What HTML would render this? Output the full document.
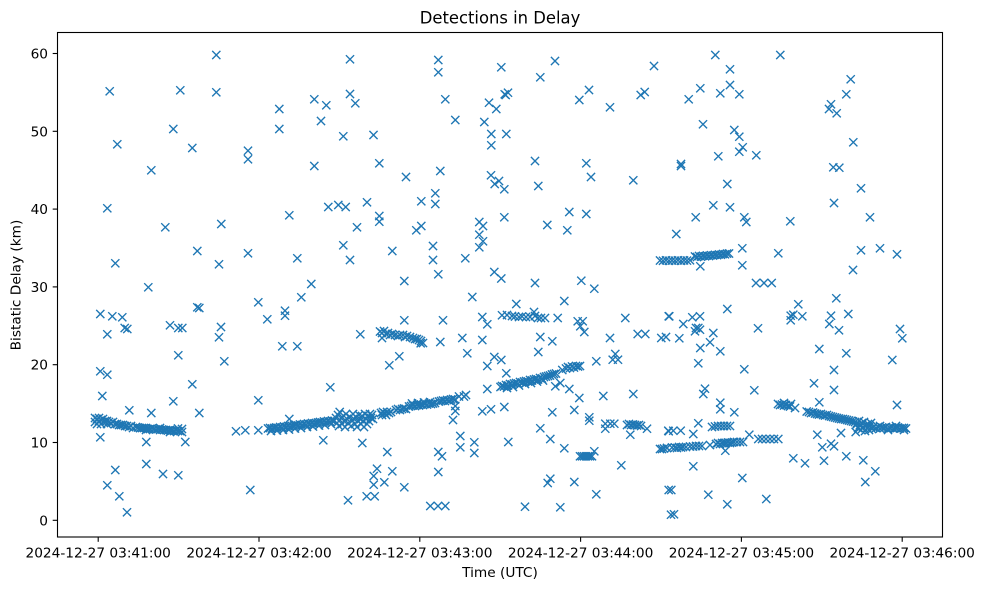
<!DOCTYPE html>
<html><head><meta charset="utf-8"><style>
html,body{margin:0;padding:0;background:#fff;}
svg{display:block;}
text{font-family:"DejaVu Sans","Liberation Sans",sans-serif;fill:#000;}
.p{fill:none;stroke:none;marker-start:url(#m);marker-mid:url(#m);marker-end:url(#m);}
</style></head><body>
<svg width="984" height="590" viewBox="0 0 984 590" xmlns="http://www.w3.org/2000/svg">
<defs>
<marker id="m" viewBox="0 0 10 10" refX="5" refY="5" markerWidth="10" markerHeight="10" markerUnits="userSpaceOnUse" overflow="visible">
<path d="M0.9 0.9L9.1 9.1M9.1 0.9L0.9 9.1" stroke="#1f77b4" stroke-width="1.37" fill="none"/>
</marker>
</defs>
<rect x="0" y="0" width="984" height="590" fill="#fff"/>

<!-- scattered points -->
<polyline class="p" points="109.7,91.3 180.3,90.3 216.3,55 216.3,92.3 350,59.3 350,94 355.3,103.3 314.3,99.3 326.3,105.3 279.3,109 279.3,129 321,121 173.3,129 117.3,144.3 192.3,148 248,150.7 248,159.3 343.3,136.3 373.5,135 151.3,170.3 314.3,166 107.3,208.3 165.3,227.3 221.3,224 289.3,215.3 328.3,207 338.3,205 345.7,207 367,202.3 357,227.3 343.3,245.3 350,260 197.3,251 248,253.3 297.3,258.3 115.3,263.3 219,264.3"/>
<polyline class="p" points="148.3,287.3 100.3,314 112.3,316.3 122.3,317.3 107.3,334.3 124.7,328 127.3,329 170,325.3 178.3,328 182.3,328 197.3,307.3 199.3,308 221,327 219,337.3 224.3,361.3 178.3,355.3 258.3,302.3 267.3,319.3 285,310.7 285,315.7 301.3,297.3 311.3,284 282.3,346.3 297.3,346.3 360.3,334.3 100.3,371.3 107.3,374.7 102.3,396 192.3,384.3 173.3,401.3 129.3,410.3 151.3,413 199.3,413 258.3,400.3 330.3,387.3 339.7,412 289.3,419 100.3,437.3 146.3,442 185.3,442 236,431.3 245.3,430.3 258.3,430.3 323.3,440.3 362.3,443 115.3,470 146.3,464 163,474 178.3,475.3 107.3,485.3 119.3,496.3 127,512.3 250.3,490 348,500.3 366.7,496.3 377,468.7 373.7,476 373.7,484.7 384.3,482.3 392.3,471.3 374.7,496.3"/>
<polyline class="p" points="438.3,60 438.3,72.3 501.3,67.3 540.3,77.3 555,61 654,66 445.3,99.3 455.3,120 489,102.7 496.3,109 504.7,94.3 508,92.7 505.7,95 484.3,122 491.3,134 506.3,134 491.3,145.3 579.3,100 589,90 610,107.3 640.7,95 644.7,92 379.3,163.3 406,177 440.3,171 491,175.3 499,181 494.7,184 504.3,189.3 535,161 538.3,186 586.3,163.3 591,177 633.3,180.3 435.3,193.3 435.3,204 421.3,201.3 379.3,216 379.3,221.7 416.3,230.3 421.3,226 479.3,222 483,226 479.3,234.7 483,241.3 479.3,247.3 504.3,217.3 547.3,225 569.3,212 586.3,214 567.3,230.3 392.3,251 433,246 433,260 465.3,258.3 438.3,274.3 494.3,272 501.3,278.5"/>
<polyline class="p" points="404.3,281 535,283 581.3,280.7 594.3,288.7 472.3,297 516.3,304 564.3,301 404.3,320.3 443,320.3 482.3,317 487.3,324.3 557.7,318 577.7,321.3 582.7,321.3 580.3,326.3 584.3,332 625.3,318 668.7,316.3 637.7,334 645.3,334 661.3,338 666,337 610,338 440.3,342 462.3,338 482.3,340 540.3,337 552.3,341.3 399.3,356.3 389.3,365.3 467.3,353.3 487.3,366 494.3,357 501.3,360 538.3,352 506.3,373.3 596.3,361.3 615.3,354 612.7,359.7 618,359.7 455.3,406 455.3,411 453,420 487.3,389 555.3,386.3 560.3,383 569.3,389 579.3,398 603.3,396 633.3,394 482.3,411.3 491,409.3 504.3,407 552.3,412.3 574.3,410 589.3,417.3 589.3,420.7 540.3,428.3 550.3,439 605.3,423.7 610.3,423.7 614.3,423.7 605.3,428.7 627,425 629,424 631,425 633,424.5 635,425 637,425.5 639,425 641,426 647,428.7 630.3,434.7 668.7,431.3 460.3,436 460.3,447.3 474.3,442.3 474.3,453 508.3,442 564.3,448.3 387.3,452 438.3,452 442,456.3 580,456.3 582,456.3 584,456.3 586,456.3 588,456.3 590,456.3 592,456.3 594.3,451.3 662,449 667,448 621.3,465.3 438.3,472 404.3,487.3 547.7,483 550.3,478.7 574.3,482 596.3,494.3 668.7,490 430.3,506 438,506 445.3,506 525,506.7 560.3,507.3 671,514.7"/>
<polyline class="p" points="715.3,55 780.3,55 730,69.3 700.3,88.3 688.7,99.3 720.3,93.3 730,85 739.3,94.3 850.7,79.3 846.3,94.3 831,104.3 829,109 836.7,113.3 703,124.3 734.3,130 739.3,136.7 742.7,147.3 739.3,151.7 718.3,156.3 756.3,155.3 681,164 681,166 853.3,142.3 833.3,167.3 839.3,167.7 727.3,184 861,188.3 713.3,205.3 730,207.3 695.7,217.3 744.3,217.3 746.3,222 790.3,221.3 834,203 870,217.3 676.3,234 700.3,266.3 742.3,248.3 742.3,265.3 778.3,253.3 861,250.3 880,248.3 897,254.3 853,270 756,283 764,283 771.7,283"/>
<polyline class="p" points="727.3,309 669.3,316.3 683.3,324 692.3,317.3 700,316.3 696,328 700,329.7 695,331.3 698.3,328 713.3,333 710,342.3 700.3,348 720.3,351.3 698.3,363.3 679.3,338.3 758,328.3 744.3,369.3 705,388.7 703.3,394 754.3,390.3 720.3,402.7 720.3,409.3 734.3,412.3 798.3,304.3 836.3,298.3 790.7,315.7 793.3,314.7 790.7,320.3 802.3,316.3 831,315.7 829.3,324 839,330.3 848.3,314 819.3,349 846.3,353.3 834,370 892.3,360 900,329 902.3,338.3 814,383.3 834,390 819.3,402.3 897,405 817.3,434.7 841,433 855.7,432 668.3,430.7 673.3,430.7 680.7,430.7 698.3,423.3 693.3,434 712,427 715,426.5 718,426 721,426 724,426 727,426 730,426 749.3,434.7 725.3,450.7 758.3,439 762,439 766,439 770,439 774,439 778.3,439 822.3,447.3 831,443.7 834,446.3 693.3,466.3 793.3,458.3 805,463.3 824,460.7 846.3,456.3 863.3,460.3 875.3,471.3 865.3,482 742.3,478 671.3,490 708.3,494.7 727.3,504.3 766.3,499 674,514.3"/>

<!-- bands -->
<polyline class="p" points="95,418 95,422 97,419 97,424 99,418 99,421 101,420 101,424 103,419 103,422 105,421 107,421 107,424 109,422 111,423 113,422 115,424 117,424 119,425 121,425 123,425 125,426 127,426 129,427 131,426 133,428 136,427 138,427.5 140,428 142,428 144,428 146,428 148,429 150,429 152,428.5 154,429 156,429.5 158,429 160,430 162,429.5 164,430 166,430 168,430.5 170,430 172,430.5 174,431 176,430.5 178,431 180,431 182,432 182,429 178,428.5 146,430 160,428 170,432"/>
<polyline class="p" points="268,428.5 270,428 272,428.5 274,428 276,427.5 278,428 280,427 282,427.5 284,426.5 286,427 288,426 290,426.5 292,426 294,425.5 296,425 298,425.5 300,424.5 302,425 304,424 306,424.5 308,423.5 310,424 312,423 314,423.5 316,423 318,422.5 320,422 322,422.5 324,421.5 326,422 328,421 330,421.5 332,420.5 334,421 271,431 277,430.5 283,430 289,429.5 295,428.5 301,428 307,427 313,426.5 319,425.5 325,425 331,424 336,418 337,423 338,415 339,426 340,420 342,417 342,424 344,421 345,427 346,414 347,419 348,423 350,417 351,426 352,421 353,414 354,419 355,424 356,417 357,427 358,421 359,415 360,419 361,424 362,416 363,421 364,427 365,414 366,419 367,424 368,416 369,421 370,414 371,418 372,415 373,419"/>
<polyline class="p" points="380,331.5 382,333 384,331 386,334 388,333 390,335 392,334 395,335 398,336 400,335 403,335 405,337 407,336 410,337 413,338 415,339 417,339 419,340 421,341 423,343 382,338 420.7,343.3"/>
<polyline class="p" points="502,315.3 507,315 512,316 515,316.5 519,317 522,316.5 526,317 530,317 534,312 535,316 538,318 541,318 545,318"/>
<polyline class="p" points="381,413 383,412 385,413.5 387,412 389,413 391,412 382,415 386,415 396,410 398,409 400,410 402,409 404,408.5 406,409 409,406.5 411,406 413,405.5 415,406 417,405 419,405.5 421,404.5 423,405 425,404 427,404.5 429,403.5 431,404 433,403.5 435,403 412,403.5 418,403 424,402.5 430,402 439,401.5 441,401 443,400.5 445,401 447,400 449,400.5 451,399.5 453,399 455,399.5 459,396.5 464,396.5 466,395"/>
<polyline class="p" points="500.5,387 502,386 504,386.5 506,385 508,385.5 510,384 512,384.5 514,383.5 516,383 518,383.5 520,382 522,382.5 524,381.5 526,381 528,381.5 530,380 532,380.5 534,379.5 536,379 538,379.5 540,378 542,378.5 544,377 546,376.5 548,376 550,375.5 552,374.5 554,374 556,373.5 507,388 513,387 519,385.5 525,384 531,383 537,381.5 543,380.5 562.3,370 566,368.5 568,367 570,368 572,366.5 574,367.5 576,366 578,366.5 580,366"/>
<polyline class="p" points="660,260.5 663,260.8 666,260.3 669,260.8 672,260.5 675,260.7 678,260.3 681,260.8 684,260.4 687,260.6 690,260.3 695,256.5 697,257 699,256 701,256.7 703,255.8 705,256.3 707,255.5 709,256 711,255.2 713,255.6 715,254.8 717,255.2 719,254.4 721,254.8 723,254 725,254.3 727,253.6 729,253.5"/>
<polyline class="p" points="660,449 664,448.5 667,448 672,447.5 675,447.5 677,448 679,447 681,447.5 683,447 686,447 690,446.5 693,446.5 696,446 699,446 702,446 710,445 716,444 718,443 720,444 722,443 724,443 726,443 728,442.5 730,443 732,442.5 734,442 737,442 740,442 743,442"/>
<polyline class="p" points="778,404 780,405 782,404.5 784,405.5 786,405 788,406 790,406.5 791,404 784,403 795,408 806.7,411.5 809,412 811,413 813,412.5 815,413.5 817,414 819,414.5 821,414 823,415 825,415.5 827,415 829,416 831,416.5 833,417 835,417.5 837,418 839,418.5 841,419 843,419 845,419.5 847,420 849,420.5 851,421 853,421.5 855,422 856,425 857,423 858,428 859,421 860,425 861,430 862,423 863,427 864,422 865,431 866,425 867,428 868,424 869,430 870,426 871,423 872,429 873,427 876,428 878,427 880,428.5 882,427.5 884,428 886,427 888,428.5 890,428 892,427.5 894,428.5 896,428 898,427.5 900,428.5 902,428 904,428 906,428.5 880,426 888,430 896,426 904,430"/>

<!-- axes frame -->
<rect x="57.5" y="32.5" width="885" height="504.5" fill="none" stroke="#000" stroke-width="1.1"/>

<!-- ticks -->
<g stroke="#000" stroke-width="1.1">
<line x1="52.7" y1="520.3" x2="57.5" y2="520.3"/>
<line x1="52.7" y1="442.5" x2="57.5" y2="442.5"/>
<line x1="52.7" y1="364.7" x2="57.5" y2="364.7"/>
<line x1="52.7" y1="286.9" x2="57.5" y2="286.9"/>
<line x1="52.7" y1="209.1" x2="57.5" y2="209.1"/>
<line x1="52.7" y1="131.3" x2="57.5" y2="131.3"/>
<line x1="52.7" y1="53.5" x2="57.5" y2="53.5"/>
<line x1="98.2" y1="537" x2="98.2" y2="541.8"/>
<line x1="259" y1="537" x2="259" y2="541.8"/>
<line x1="419.8" y1="537" x2="419.8" y2="541.8"/>
<line x1="580.6" y1="537" x2="580.6" y2="541.8"/>
<line x1="741.4" y1="537" x2="741.4" y2="541.8"/>
<line x1="902.2" y1="537" x2="902.2" y2="541.8"/>
</g>
<g font-size="13.7" text-anchor="end">
<text x="48" y="525.3">0</text>
<text x="48" y="447.5">10</text>
<text x="48" y="369.7">20</text>
<text x="48" y="291.9">30</text>
<text x="48" y="214.1">40</text>
<text x="48" y="136.3">50</text>
<text x="48" y="58.5">60</text>
</g>
<g font-size="13.7" text-anchor="middle">
<text x="98.2" y="557.5">2024-12-27 03:41:00</text>
<text x="259" y="557.5">2024-12-27 03:42:00</text>
<text x="419.8" y="557.5">2024-12-27 03:43:00</text>
<text x="580.6" y="557.5">2024-12-27 03:44:00</text>
<text x="741.4" y="557.5">2024-12-27 03:45:00</text>
<text x="902.2" y="557.5">2024-12-27 03:46:00</text>
</g>
<text x="500" y="577" font-size="13.7" text-anchor="middle">Time (UTC)</text>
<text transform="translate(20.5,285) rotate(-90)" font-size="13.7" text-anchor="middle">Bistatic Delay (km)</text>
<text x="500" y="23.5" font-size="16.4" text-anchor="middle">Detections in Delay</text>
</svg>
</body></html>
